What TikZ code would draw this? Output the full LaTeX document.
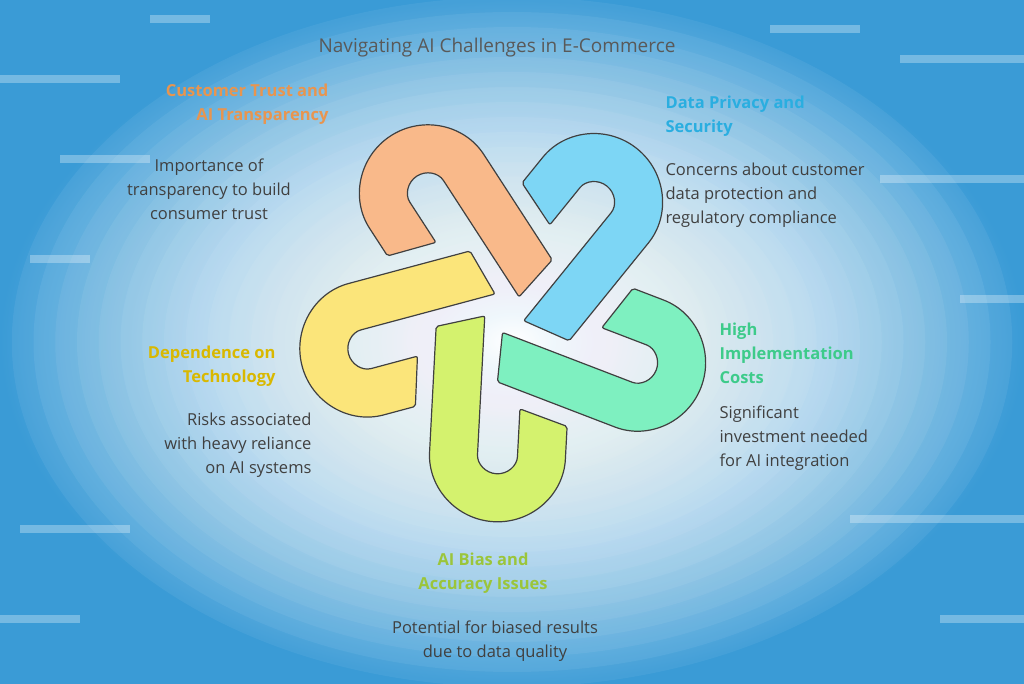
\documentclass[tikz,border=0pt]{standalone}
\usepackage{fontspec}
\setmainfont{Open Sans}
\begin{document}
\begin{tikzpicture}[x=1pt,y=1pt,
  band/.style={draw=black!75,line width=1.2pt,rounded corners=2pt},
  head/.style={font=\fontsize{16.5}{24}\selectfont\bfseries},
  desc/.style={font=\fontsize{16.5}{24}\selectfont,text=black!75}]
\definecolor{cOr}{HTML}{F9B98A}\definecolor{cBl}{HTML}{7DD6F5}
\definecolor{cTe}{HTML}{7EF0C0}\definecolor{cGr}{HTML}{D4F26E}
\definecolor{cYe}{HTML}{FBE57A}
\definecolor{tOr}{HTML}{E8954F}\definecolor{tBl}{HTML}{2AAEE0}
\definecolor{tTe}{HTML}{3DCB8A}\definecolor{tGr}{HTML}{9BC53A}
\definecolor{tYe}{HTML}{D9B800}
\definecolor{bgO}{HTML}{3A9BD6}
\useasboundingbox (0,0) rectangle (1024,683);
\shade[inner color=white,outer color=bgO] (0,0) rectangle (1024,683);
\foreach \r in {60,75,...,345}
  \fill[white,opacity=0.06] (512,341) ellipse ({\r*1.45} and \r);
\foreach \x/\y/\w in {0/600/120,60/520/90,900/620/124,880/500/144,20/150/110,850/160/174,0/60/80,940/60/84,150/660/60,770/650/90,30/420/60,960/380/64}
  \fill[white,opacity=0.3] (\x,\y) rectangle ++(\w,8);
\foreach \ang/\col in {-3/cGr,69/cTe,141/cBl,213/cOr,285/cYe}{
  \begin{scope}[shift={(505,371)},rotate=\ang]
  \draw[band,fill=\col] (-68,-18) -- (-68,-142) arc (180:360:68) -- (68,-111) -- (20,-96) -- (20,-142) arc (0:-180:20) -- (-20,-5) -- cycle;
  \end{scope}}
\node[font=\fontsize{19}{24}\selectfont,text=black!65] (title) at (497,635) {Navigating AI Challenges in E-Commerce};
\node[head,text=tOr,anchor=east,align=right] (h1) at (332,579) {Customer Trust and\\AI Transparency};
\node[desc,align=center] (d1) at (209,494) {Importance of\\transparency to build\\consumer trust};
\node[head,text=tBl,anchor=west,align=left] (h2) at (662,567) {Data Privacy and\\Security};
\node[desc,anchor=west,align=left] (d2) at (662,488) {Concerns about customer\\data protection and\\regulatory compliance};
\node[head,text=tTe,anchor=west,align=left] (h3) at (716,330) {High\\Implementation\\Costs};
\node[desc,anchor=west,align=left] (d3) at (716,245) {Significant\\investment needed\\for AI integration};
\node[head,text=tYe,anchor=east,align=right] (h4) at (279,317) {Dependence on\\Technology};
\node[desc,anchor=east,align=right] (d4) at (315,238) {Risks associated\\with heavy reliance\\on AI systems};
\node[head,text=tGr,align=center] (h5) at (483,110) {AI Bias and\\Accuracy Issues};
\node[desc,align=center] (d5) at (495,42) {Potential for biased results\\due to data quality};
\end{tikzpicture}
\end{document}
